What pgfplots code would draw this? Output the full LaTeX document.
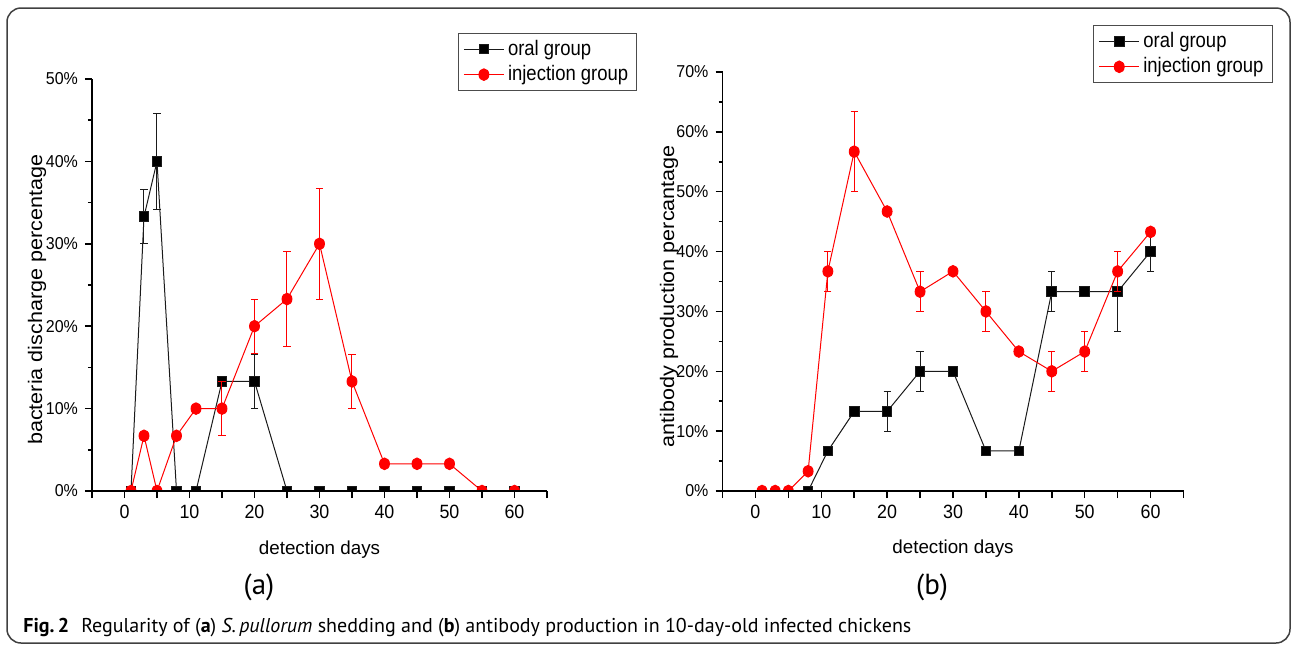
\documentclass[border=0pt]{standalone}
\usepackage{pgfplots}
\pgfplotsset{compat=1.18}
\usepackage{pgfplotstable}
\usepackage{fontspec}
\setmainfont{Liberation Sans}
\newfontfamily\tickfont[FakeStretch=0.93]{Liberation Sans}
\newfontfamily\legfont[FakeStretch=0.88]{Liberation Sans}
\newfontfamily\ylabfont[FakeStretch=1.1]{Liberation Sans}
\newfontfamily\capfont{PT Sans}
\definecolor{ptred}{HTML}{FF0000}
\definecolor{ptblack}{HTML}{1A1A1A}

% (a) bacteria discharge
\pgfplotstableread{
day val err
1 0 0
3 33.3 3.3
5 40 5.8
8 0 0
11 0 0
15 13.3 0
20 13.3 3.3
25 0 0
30 0 0
35 0 0
40 0 0
45 0 0
50 0 0
55 0 0
60 0 0
}\aoral
\pgfplotstableread{
day val err
1 0 0
3 6.7 0
5 0 0
8 6.7 0
11 10 0
15 10 3.3
20 20 3.3
25 23.3 5.8
30 30 6.7
35 13.3 3.3
40 3.3 0
45 3.3 0
50 3.3 0
55 0 0
60 0 0
}\ainj
% (b) antibody production
\pgfplotstableread{
day val err
8 0 0
11 6.7 0
15 13.3 0
20 13.3 3.3
25 20 3.3
30 20 0
35 6.7 0
40 6.7 0
45 33.3 3.3
50 33.3 0
55 33.3 6.7
60 40 3.3
}\boral
\pgfplotstableread{
day val err
1 0 0
3 0 0
5 0 0
8 3.3 0
11 36.7 3.3
15 56.7 6.7
20 46.7 0
25 33.3 3.3
30 36.7 0
35 30 3.3
40 23.3 0
45 20 3.3
50 23.3 3.3
55 36.7 3.3
60 43.3 0
}\binj

\pgfplotsset{
  panel/.style={
    scale only axis, anchor=south west,
    xmin=-5, xmax=65, ymin=0,
    axis lines=left, axis line style={-, line width=0.75pt, black},
    tick align=outside, major tick length=3.5pt, minor tick length=2pt,
    tick style={line width=0.75pt, black},
    xtick={-5,0,...,65},
    xticklabels={,0,,10,,20,,30,,40,,50,,60,},
    minor y tick num=1,
    yticklabel={\pgfmathprintnumber{\tick}\%},
    /pgf/number format/assume math mode=true,
    x tick label style={font=\tickfont\fontsize{9.6}{10}\selectfont},
    y tick label style={font=\tickfont\fontsize{8.6}{9}\selectfont},
    xlabel={detection days},
    xlabel style={font=\fontsize{9.4}{10}\selectfont, anchor=base},
    ylabel style={font=\ylabfont\fontsize{9.8}{10}\selectfont, rotate=0, anchor=center},
    clip marker paths=true, axis on top,
    legend cell align=left,
    legend style={anchor=north west, draw=black!70, line width=0.6pt,
      font=\legfont\fontsize{10.5}{12}\selectfont, inner xsep=2.5pt, inner ysep=1.5pt,
      row sep=0pt, nodes={inner sep=1.8pt}},
    legend image code/.code={\draw[##1,mark repeat=2,mark phase=2]
      plot coordinates {(0pt,0pt)(10pt,0pt)(20pt,0pt)};},
    error bars/y dir=both, error bars/y explicit,
    error bars/error bar style={line width=0.5pt},
    error bars/error mark options={rotate=90, mark size=1.8pt, line width=0.5pt},
  },
  oral/.style={color=ptblack, line width=0.5pt, mark=square*, mark size=2.4pt,
    mark options={solid, fill=black}},
  inj/.style={color=ptred, line width=0.5pt, mark=*, mark size=2.9pt,
    mark options={solid, fill=ptred, xscale=0.85}},
}

\begin{document}
\begin{tikzpicture}
\path (0pt,0pt) rectangle (646pt,-322.5pt);
\draw[black!75, line width=0.75pt, rounded corners=7pt] (3.5pt,-4pt) rectangle (645pt,-321.5pt);

\begin{axis}[panel, at={(46pt,-245.5pt)}, width=227.5pt, height=206pt,
  ymax=50, ytick={0,10,...,50},
  ylabel={bacteria discharge percentage},
  every axis y label/.append style={at={(rel axis cs:-0.121,0.464)}},
  every axis x label/.append style={at={(rel axis cs:0.5,-0.155)}},
  legend style={at={(rel axis cs:0.804,1.112)}}]
\addplot[oral] table[x=day, y=val, y error=err] {\aoral};
\addlegendentry{oral group}
\addplot[inj] table[x=day, y=val, y error=err] {\ainj};
\addlegendentry{injection group}
\end{axis}

\begin{axis}[panel, at={(361.25pt,-245.5pt)}, width=230.5pt, height=209.5pt,
  ymax=70, ytick={0,10,...,70},
  ylabel={antibody production percantage},
  every axis y label/.append style={at={(rel axis cs:-0.116,0.465)}},
  every axis x label/.append style={at={(rel axis cs:0.5,-0.148)}},
  legend style={at={(rel axis cs:0.804,1.112)}}]
\addplot[oral] table[x=day, y=val, y error=err] {\boral};
\addlegendentry{oral group}
\addplot[inj] table[x=day, y=val, y error=err] {\binj};
\addlegendentry{injection group}
\end{axis}

\node[font=\capfont\fontsize{14.5}{16}\selectfont] at (129.5pt,-293.5pt) {(a)};
\node[font=\capfont\fontsize{14.5}{16}\selectfont] at (466pt,-293.5pt) {(b)};
\node[anchor=base west, inner sep=0pt, font=\capfont\fontsize{10}{12}\selectfont]
  at (11.5pt,-316pt) {\textbf{Fig.\,2}\hspace{0.6em}Regularity of (\textbf{a}) \textit{S.\,pullorum} shedding and (\textbf{b}) antibody production in 10-day-old infected chickens};
\end{tikzpicture}
\end{document}
